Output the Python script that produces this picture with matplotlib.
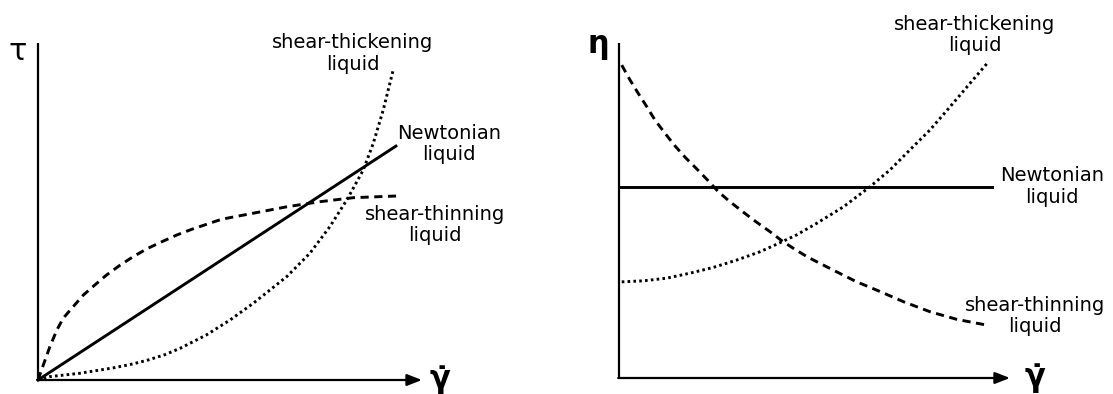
import matplotlib
matplotlib.use("Agg")
import matplotlib.pyplot as plt

plt.rcParams['font.family'] = ['DejaVu Sans']

# shear stress vs shear rate (arbitrary units, 0..10)
tau_newton_x = [0.0, 9.32]
tau_newton_y = [0.0, 6.94]
tau_thin_x = [0.0, 0.14, 0.31, 0.49, 0.66, 0.92, 1.18, 1.48, 1.79, 2.14, 2.48, 2.83, 3.22,
              3.61, 4.00, 4.39, 4.78, 5.61, 6.48, 7.34, 8.21, 9.34]
tau_thin_y = [0.0, 0.45, 0.99, 1.48, 1.84, 2.18, 2.52, 2.82, 3.12, 3.41, 3.66, 3.89, 4.10,
              4.30, 4.47, 4.62, 4.77, 4.95, 5.14, 5.29, 5.41, 5.46]
tau_thick_x = [0.0, 0.31, 1.09, 1.96, 2.40, 2.83, 3.30, 3.70, 4.39, 5.00, 5.61, 6.48, 7.08,
               7.60, 8.04, 8.47, 8.73, 8.99, 9.25]
tau_thick_y = [0.0, 0.10, 0.20, 0.36, 0.46, 0.58, 0.75, 0.94, 1.34, 1.78, 2.28, 3.07, 3.76,
               4.55, 5.34, 6.23, 7.02, 8.01, 9.20]

# viscosity vs shear rate
eta_newton_x = [0.0, 9.53]
eta_newton_y = [5.71, 5.71]
eta_thin_x = [0.07, 0.28, 0.49, 0.71, 0.92, 1.18, 1.43, 1.69, 1.99, 2.28, 2.54, 2.84, 3.18,
              3.52, 3.86, 4.16, 4.50, 4.84, 5.48, 6.08, 6.68, 7.27, 7.95, 8.64, 9.40]
eta_thin_y = [9.34, 8.90, 8.50, 8.10, 7.70, 7.30, 6.93, 6.59, 6.24, 5.89, 5.56, 5.26, 4.95,
              4.65, 4.37, 4.10, 3.84, 3.60, 3.22, 2.87, 2.58, 2.28, 1.98, 1.75, 1.58]
eta_thick_x = [0.07, 0.62, 1.22, 1.82, 2.41, 3.01, 3.61, 4.12, 4.54, 5.06, 5.74, 6.42, 6.93,
               7.44, 7.95, 8.47, 8.98, 9.45]
eta_thick_y = [2.87, 2.90, 2.98, 3.13, 3.30, 3.52, 3.77, 4.04, 4.27, 4.62, 5.11, 5.71, 6.21,
               6.81, 7.40, 8.10, 8.80, 9.44]

W, H = 1113, 394
fig = plt.figure(figsize=(W / 100, H / 100), dpi=100)


def make_axes(x0, x1, y0, y1):
    # pixel box -> figure fraction
    ax = fig.add_axes([x0 / W, (H - y0) / H, (x1 - x0) / W, (y0 - y1) / H])
    ax.set_xlim(0, 10)
    ax.set_ylim(0, 10)
    ax.axis('off')
    ax.plot([0, 0], [0, 10], color='black', lw=1.6, solid_capstyle='butt', clip_on=False)
    ax.annotate('', xy=(10, 0), xytext=(-0.02, 0), xycoords='data',
                arrowprops=dict(arrowstyle='-|>,head_length=0.9,head_width=0.35',
                                color='black', lw=1.6, shrinkA=0, shrinkB=0),
                annotation_clip=False)
    return ax


solid = dict(color='black', lw=2.1, clip_on=False)
dashed = dict(color='black', lw=2.1, linestyle=(0, (2.8, 1.9)), clip_on=False)
dotted = dict(color='black', lw=2.1, linestyle=(0, (0.9, 1.1)), clip_on=False)
lab = dict(fontsize=14, ha='center', va='center', linespacing=1.15)
sym = dict(fontsize=22, ha='center', va='center')

# left: flow curves
ax1 = make_axes(38, 422, 380, 43)
ax1.plot(tau_newton_x, tau_newton_y, **solid)
ax1.plot(tau_thin_x, tau_thin_y, **dashed)
ax1.plot(tau_thick_x, tau_thick_y, **dotted)
ax1.text(-0.52, 9.76, 'τ', **sym)
ax1.text(10.47, 0.0, 'γ\u0307', fontweight='bold', **sym)
ax1.text(8.20, 9.69, 'shear-thickening\nliquid', **lab)
ax1.text(10.70, 7.00, 'Newtonian\nliquid', **lab)
ax1.text(10.34, 4.60, 'shear-thinning\nliquid', **lab)

# right: viscosity curves
ax2 = make_axes(619, 1010, 378, 43)
ax2.plot(eta_newton_x, eta_newton_y, **solid)
ax2.plot(eta_thin_x, eta_thin_y, **dashed)
ax2.plot(eta_thick_x, eta_thick_y, **dotted)
ax2.text(-0.54, 9.94, 'η', fontweight='bold', **sym)
ax2.text(10.64, 0.0, 'γ\u0307', fontweight='bold', **sym)
ax2.text(9.10, 10.25, 'shear-thickening\nliquid', **lab)
ax2.text(11.07, 5.72, 'Newtonian\nliquid', **lab)
ax2.text(10.64, 1.85, 'shear-thinning\nliquid', **lab)

fig.savefig('out.png', dpi=100)
